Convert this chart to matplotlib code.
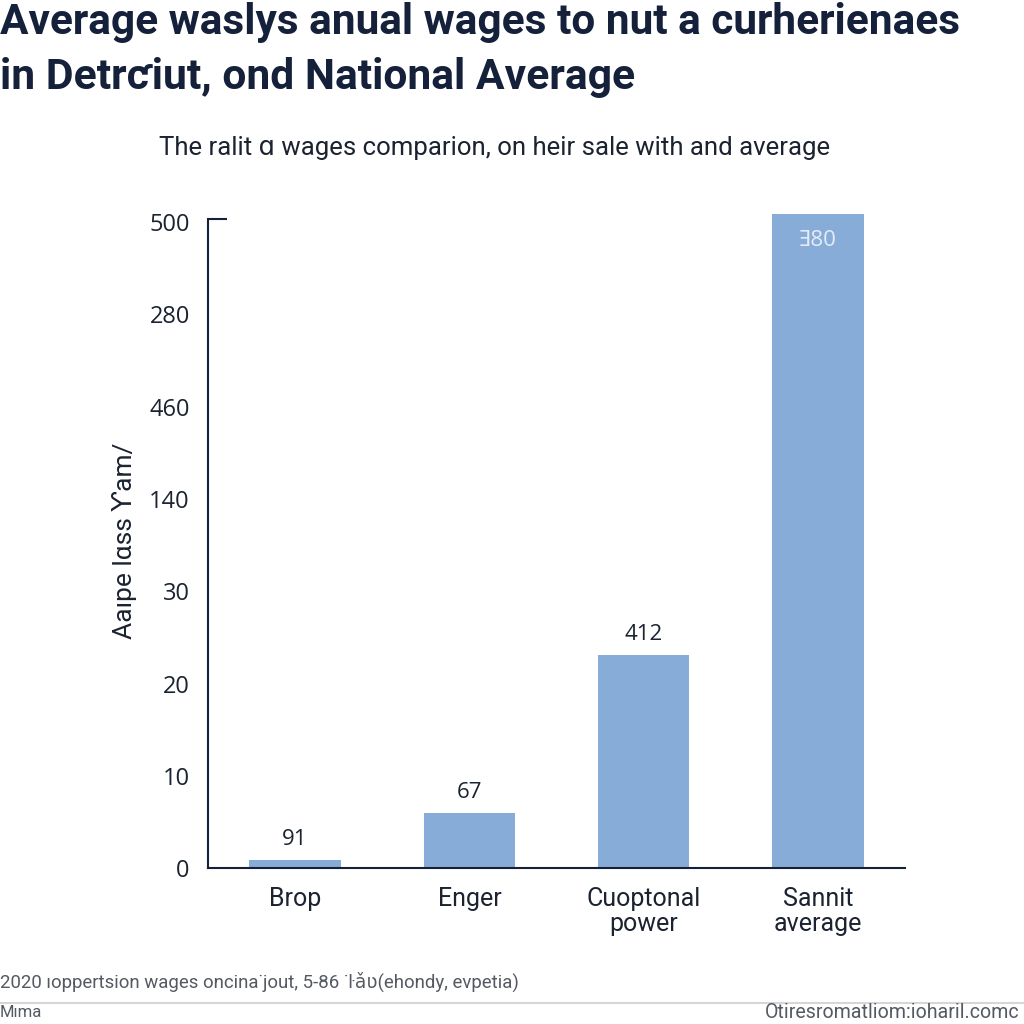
import numpy as np
import matplotlib
matplotlib.use("Agg")
from matplotlib import pyplot as plt
from matplotlib.lines import Line2D

# chart data (tick positions are in "axis units", labels are as printed)
categories = ["Brop", "Enger", "Cuoptonal\npower", "Sannit\naverage"]
heights = [0.9, 6.0, 23.1, 70.9]
bar_labels = ["91", "67", "412", "\u018e80"]
ytick_pos = [0, 10, 20, 30, 40, 50, 60, 70]
ytick_labels = ["0", "10", "20", "30", "140", "460", "280", "500"]

narrow = ["Roboto", "Open Sans", "DejaVu Sans"]
plain = ["Open Sans", "Noto Sans", "DejaVu Sans"]
navy = "#15213a"
bar_col = "#88acd8"

fig = plt.figure(figsize=(10.24, 10.24), dpi=100)
fig.patch.set_facecolor("white")
ax = fig.add_axes([0.203, 0.1523, 0.681, 0.6343])

x = np.arange(len(categories))
bars = ax.bar(x, heights, width=0.525, color=bar_col, clip_on=False, zorder=2)

ax.set_xlim(-0.5, 3.5)
ax.set_ylim(0, 70.4)

# value labels: last one sits inside the bar
for i, (b, lab) in enumerate(zip(bars, bar_labels)):
    h = b.get_height()
    if i == len(bars) - 1:
        ax.text(b.get_x() + b.get_width() / 2, h - 2.9, lab, ha="center", va="center",
                fontsize=16, color="#e4ecf7", family=plain)
    else:
        ax.text(b.get_x() + b.get_width() / 2, h + 2.2, lab, ha="center", va="center",
                fontsize=16, color="#1b2230", family=plain)

ax.set_xticks(x)
ax.set_xticklabels(categories, fontsize=18, color="#1b2230", family=narrow, linespacing=1.05)
ax.set_yticks(ytick_pos)
ax.set_yticklabels(ytick_labels, fontsize=17, color="#1b2230", family=plain)
ax.tick_params(axis="both", length=0)
ax.tick_params(axis="x", pad=14)
ax.tick_params(axis="y", pad=13)
ax.set_yticks([70.4], minor=True)
ax.tick_params(axis="y", which="minor", direction="in", length=14, width=1.5, color=navy)

for s in ["top", "right"]:
    ax.spines[s].set_visible(False)
for s in ["left", "bottom"]:
    ax.spines[s].set_color(navy)
    ax.spines[s].set_linewidth(1.5)

ax.set_ylabel("Aa\u0131pe l\u03b1ss \u01b3am/", fontsize=19, color="#1b2230", family=narrow)
ax.yaxis.set_label_coords(-0.102, 0.504)

# titles
t1 = fig.text(0.0, 0.978, "Average waslys anual wages to nut a curherienaes",
              fontsize=33, fontweight="bold", color=navy, family=narrow, va="center", ha="left")
t2 = fig.text(0.0, 0.924, "in Detr\u0188iut, ond National Average",
              fontsize=33, fontweight="bold", color=navy, family=narrow, va="center", ha="left")
t3 = fig.text(0.483, 0.855, "The ralit \u0251 wages comparion, on heir sale with and average",
              fontsize=19, color="#1b2230", family=narrow, va="center", ha="center")

# footer
t4 = fig.text(0.0, 0.041, "2020 \u0131oppertsion wages oncina\u02d9jout, 5-86 \u02d9\u0140\u01ce\u028b(ehondy, evpetia)",
              fontsize=14, color="#555a62", family=narrow, va="center", ha="left")
fig.add_artist(Line2D([0, 1], [0.0205, 0.0205], transform=fig.transFigure,
                      color="#d6d6d6", linewidth=1.5))
fig.text(0.0, 0.0115, "M\u0131ma", fontsize=12, color="#555a62", family=narrow,
         va="center", ha="left")
t5 = fig.text(0.996, 0.0115, "Otiresromatliom:ioharil.comc", fontsize=13, color="#555a62",
              family=narrow, va="center", ha="right")

# shrink the long texts so they span the same width as in the original
fig.canvas.draw()
r = fig.canvas.get_renderer()
for t, w in [(t1, 962), (t2, 636), (t3, 670), (t4, 523), (t5, 254)]:
    cur = t.get_window_extent(r).width
    t.set_fontsize(t.get_fontsize() * w / cur)

fig.savefig("out.png", dpi=100)
